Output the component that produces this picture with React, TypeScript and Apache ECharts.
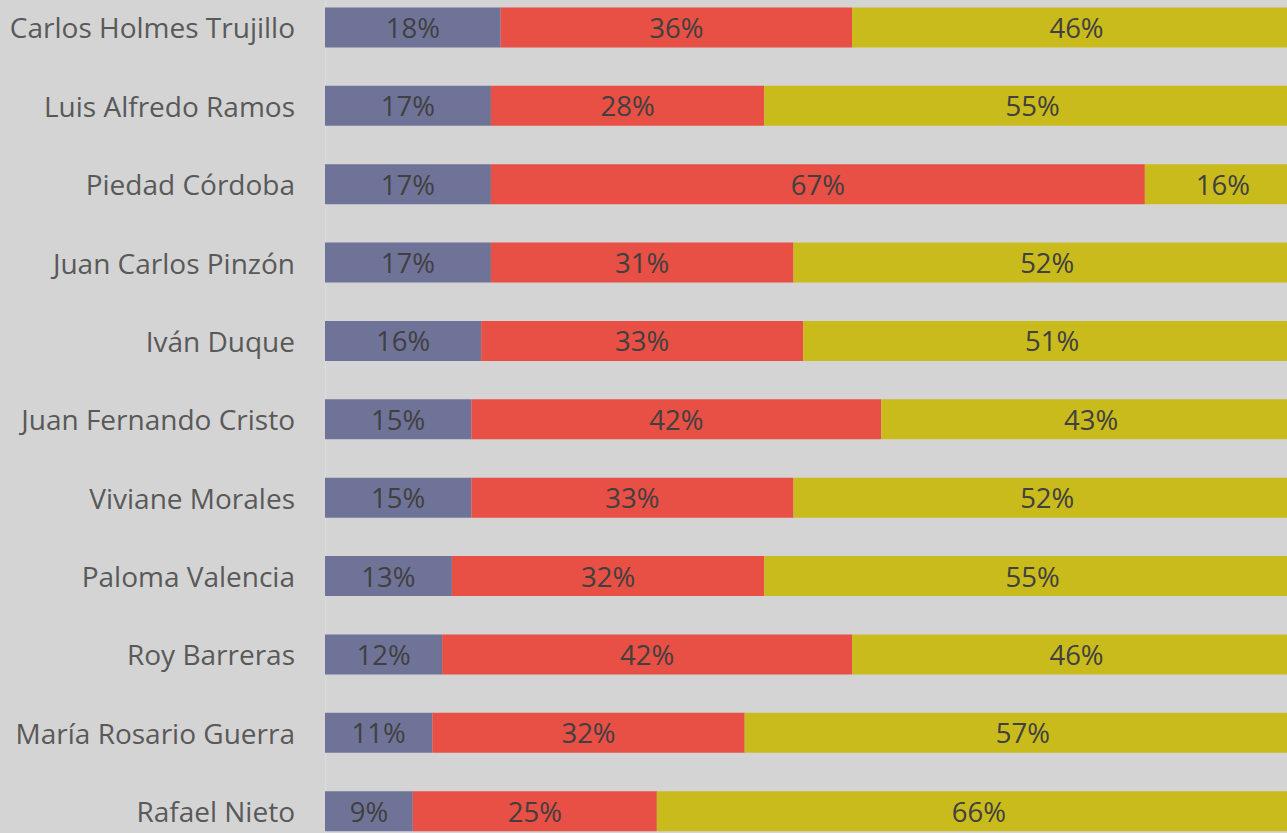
import React, { useEffect, useRef } from "react";
import * as echarts from "echarts";

const categories = [
  "Carlos Holmes Trujillo",
  "Luis Alfredo Ramos",
  "Piedad Córdoba",
  "Juan Carlos Pinzón",
  "Iván Duque",
  "Juan Fernando Cristo",
  "Viviane Morales",
  "Paloma Valencia",
  "Roy Barreras",
  "María Rosario Guerra",
  "Rafael Nieto",
];
const purpleValues = [18, 17, 17, 17, 16, 15, 15, 13, 12, 11, 9];
const redValues = [36, 28, 67, 31, 33, 42, 33, 32, 42, 32, 25];
const yellowValues = [46, 55, 16, 52, 51, 43, 52, 55, 46, 57, 66];

const FONT = "'Open Sans', Lato, sans-serif";
const OFFSET_TOP = 20;

export default function App() {
  const ref = useRef<HTMLDivElement>(null);
  useEffect(() => {
    if (!ref.current) return;
    const chart = echarts.init(ref.current, null, { renderer: "svg" });
    const mk = (name: string, data: number[], color: string) => ({
      name,
      type: "bar",
      stack: "total",
      barWidth: 40,
      data,
      itemStyle: { color },
      label: {
        show: true,
        position: "inside",
        formatter: (p: any) => `${p.value}%`,
        color: "#404040",
        fontSize: 27.5,
        fontFamily: FONT,
      },
    });
    chart.setOption({
      animation: false,
      backgroundColor: "#d4d4d4",
      grid: { left: 325, top: OFFSET_TOP - 11.7, width: 976, height: 862.1, containLabel: false },
      xAxis: {
        type: "value",
        min: 0,
        max: 100,
        show: false,
      },
      yAxis: {
        type: "category",
        inverse: true,
        data: categories,
        axisLine: { show: true, lineStyle: { color: "#dcdcdc", width: 1 } },
        axisTick: { show: false },
        axisLabel: {
          margin: 30,
          color: "#595959",
          fontSize: 28,
          fontFamily: FONT,
        },
      },
      series: [
        mk("Purple", purpleValues, "#707398"),
        mk("Red", redValues, "#e84f45"),
        mk("Yellow", yellowValues, "#cabb1c"),
      ],
    });
    return () => chart.dispose();
  }, []);
  return (
    <div
      style={{
        position: "fixed",
        left: 0,
        top: 0,
        width: 1287,
        height: 833,
        overflow: "hidden",
        background: "#d4d4d4",
      }}
    >
      <div
        ref={ref}
        style={{ position: "absolute", left: 0, top: -OFFSET_TOP, width: 1320, height: 900 }}
      />
    </div>
  );
}
